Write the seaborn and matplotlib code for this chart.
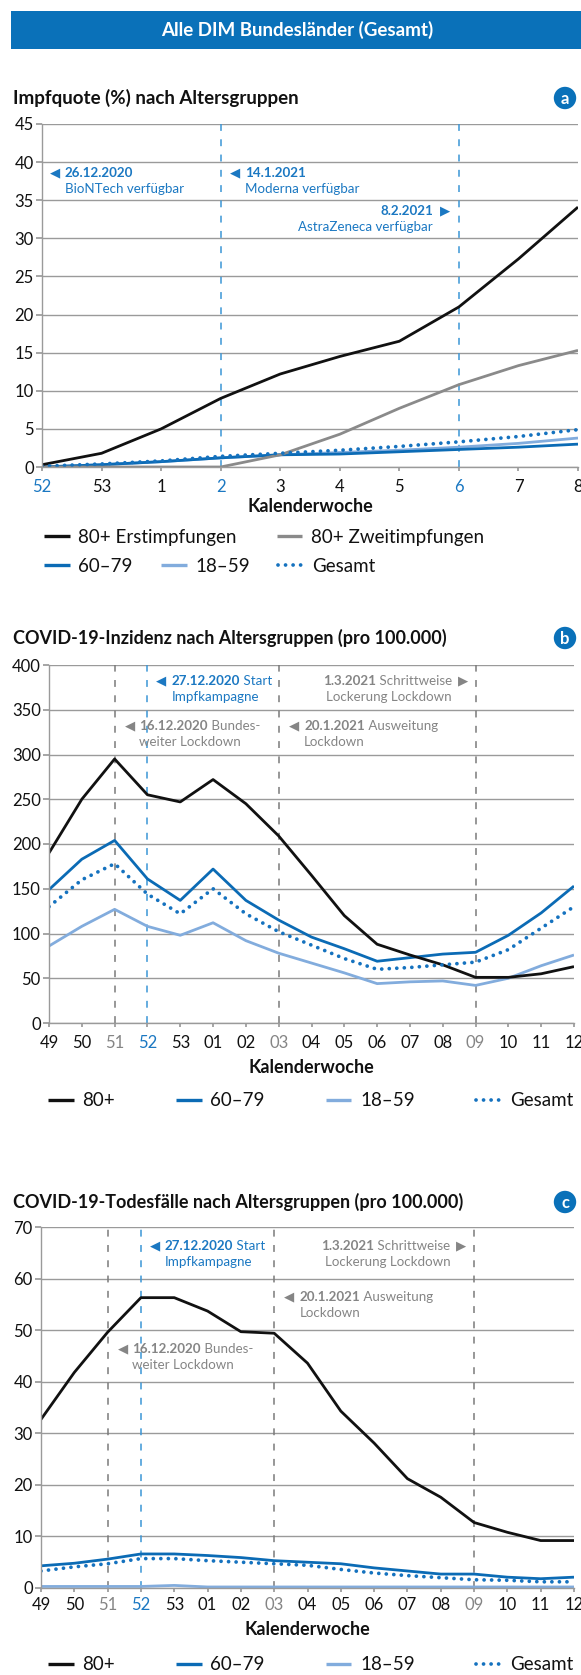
import matplotlib

matplotlib.use("Agg", force=True)
import matplotlib.pyplot as plt
import pandas as pd
import seaborn as sns
from matplotlib.lines import Line2D
from matplotlib.patches import Circle, Rectangle

W, H = 581, 1675

# panel a: Impfquote (%)
A_WEEKS = ["52", "53", "1", "2", "3", "4", "5", "6", "7", "8"]
A_ERST = [0.3, 1.8, 5.0, 9.0, 12.2, 14.5, 16.5, 21.0, 27.3, 34.1]
A_ZWEIT = [0.0, 0.0, 0.0, 0.0, 1.6, 4.3, 7.7, 10.8, 13.3, 15.3]
A_6079 = [0.0, 0.3, 0.7, 1.2, 1.6, 1.7, 2.0, 2.3, 2.6, 3.0]
A_1859 = [0.0, 0.3, 0.7, 1.2, 1.6, 1.9, 2.2, 2.6, 3.1, 3.8]
A_GES = [0.1, 0.4, 0.8, 1.4, 1.8, 2.2, 2.7, 3.3, 4.0, 4.9]

# panels b and c share the weeks
BC_WEEKS = ["49", "50", "51", "52", "53", "01", "02", "03", "04",
            "05", "06", "07", "08", "09", "10", "11", "12"]

# panel b: Inzidenz pro 100.000
B_80 = [190, 250, 295, 255, 247, 272, 245, 209, 165, 120, 88, 76, 65, 51, 51, 55, 63]
B_6079 = [149, 183, 204, 161, 137, 172, 137, 115, 96, 83, 69, 73, 77, 79, 98, 123, 153]
B_1859 = [86, 108, 127, 108, 98, 112, 92, 78, 67, 56, 44, 46, 47, 42, 50, 64, 76]
B_GES = [130, 160, 178, 144, 122, 150, 122, 102, 87, 72, 60, 62, 65, 68, 82, 106, 130]

# panel c: Todesfälle pro 100.000
C_80 = [32.7, 41.8, 49.6, 56.3, 56.3, 53.7, 49.7, 49.4, 43.6, 34.3, 28.1, 21.2, 17.6, 12.7, 10.8, 9.2, 9.2]
C_6079 = [4.3, 4.8, 5.6, 6.6, 6.6, 6.3, 5.9, 5.3, 5.0, 4.7, 3.9, 3.3, 2.7, 2.7, 2.1, 1.8, 2.1]
C_1859 = [0.3, 0.3, 0.3, 0.3, 0.5, 0.2, 0.2, 0.2, 0.2, 0.2, 0.2, 0.2, 0.2, 0.2, 0.2, 0.2, 0.2]
C_GES = [3.3, 4.1, 4.7, 5.7, 5.7, 5.3, 5.0, 4.7, 4.4, 3.6, 2.9, 2.4, 2.0, 1.6, 1.5, 1.2, 1.2]

BLACK = "#111111"
GREY_LINE = "#8a8a8a"
BLUE_DARK = "#0b6bb5"
BLUE_LIGHT = "#82acdd"
BLUE_DOT = "#1572bf"
NOTE_BLUE = "#1b78c2"
NOTE_GREY = "#858585"
VLINE_BLUE = "#3b96d6"
VLINE_GREY = "#7a7a7a"
AXIS_GREY = "#9a9a9a"
BANNER = "#0a71b9"

TICK_FS = 12
NOTE_FS = 9.6
TRI_FS = 9.5
LEG_FS = 13.5


def set_style() -> None:
    sns.set_theme(style="white")
    plt.rcParams["font.family"] = ["Lato", "DejaVu Sans"]
    plt.rcParams["axes.unicode_minus"] = False


def add_axes(fig, left, right, top, bottom):
    return fig.add_axes([left / W, 1 - bottom / H, (right - left) / W, (bottom - top) / H])


def plot_series(ax, values, color, dotted=False):
    df = pd.DataFrame({"x": range(len(values)), "y": values})
    sns.lineplot(data=df, x="x", y="y", ax=ax, color=color, linewidth=2.0, legend=False)
    line = ax.lines[-1]
    line.set_solid_capstyle("butt")
    if dotted:
        line.set_linewidth(2.7)
        line.set_linestyle((0, (0.01, 2.0)))
        line.set_dash_capstyle("round")


def style_axes(ax, labels, ymax, ystep, colored, xpad, labelpad):
    ax.set_xlim(0, len(labels) - 1)
    ax.set_ylim(0, ymax)
    ax.set_yticks(range(0, ymax + 1, ystep))
    ax.set_xticks(range(len(labels)), labels)
    ax.yaxis.grid(True, color=AXIS_GREY, linewidth=1.0)
    ax.set_axisbelow(True)
    for side in ["top", "right"]:
        ax.spines[side].set_visible(False)
    for side in ["left", "bottom"]:
        ax.spines[side].set_color(AXIS_GREY)
        ax.spines[side].set_linewidth(1.0)
    ax.tick_params(axis="y", left=True, length=4, color=AXIS_GREY, pad=2, labelsize=TICK_FS, labelcolor=BLACK)
    ax.tick_params(axis="x", bottom=True, length=3, color=AXIS_GREY, pad=xpad, labelsize=TICK_FS, labelcolor=BLACK)
    for lab in ax.get_xticklabels():
        if lab.get_text() in colored:
            lab.set_color(colored[lab.get_text()])
    ax.set_ylabel("")
    ax.set_xlabel("Kalenderwoche", fontsize=13, fontweight="bold", color=BLACK, labelpad=labelpad)


def vline(ax, x, color):
    ax.axvline(x, color=color, linewidth=1.1, linestyle=(0, (4.5, 5.5)), zorder=1.5)


def note(ax, x, y, date, rest, second, color, side, tri_off, text_off):
    kw = dict(color=color, fontsize=NOTE_FS, va="center", textcoords="offset pixels", annotation_clip=False)
    if side == "right":
        ax.annotate("◀", (x, y), xytext=(tri_off, 0), ha="left", family=["DejaVu Sans"],
                    **{**kw, "fontsize": TRI_FS})
        d = ax.annotate(date, (x, y), xytext=(text_off, 0), ha="left", fontweight="bold", **kw)
        if rest:
            ax.annotate(" " + rest, (1, 0.5), xycoords=d, xytext=(0, 0), ha="left", **kw)
        ax.annotate(second, (x, y), xytext=(text_off, -16), ha="left", **kw)
    else:
        ax.annotate("▶", (x, y), xytext=(-tri_off, 0), ha="right", family=["DejaVu Sans"],
                    **{**kw, "fontsize": TRI_FS})
        if rest:
            r = ax.annotate(" " + rest, (x, y), xytext=(-text_off, 0), ha="right", **kw)
            ax.annotate(date, (0, 0.5), xycoords=r, xytext=(0, 0), ha="right", fontweight="bold", **kw)
        else:
            ax.annotate(date, (x, y), xytext=(-text_off, 0), ha="right", fontweight="bold", **kw)
        ax.annotate(second, (x, y), xytext=(-text_off, -16), ha="right", **kw)


def title(fig, y, text, letter, size):
    fig.text(13 / W, 1 - y / H, text, fontsize=size, fontweight="bold", color=BLACK, va="center", ha="left")
    fig.patches.append(Circle((565 / 100, (H - y) / 100), 0.112, transform=fig.dpi_scale_trans,
                              facecolor=BANNER, edgecolor="none"))
    fig.text(565 / W, 1 - (y + 1) / H, letter, fontsize=12, fontweight="bold", color="white",
             ha="center", va="center")


def handle(color, dotted=False):
    if dotted:
        return Line2D([], [], color=color, linewidth=2.7, linestyle=(0, (0.01, 2.0)), dash_capstyle="round")
    return Line2D([], [], color=color, linewidth=2.4, solid_capstyle="butt")


def legend(fig, x, y, handles, labels, spacing):
    return fig.legend(handles, labels, loc="center left", bbox_to_anchor=(x / W, 1 - y / H), ncol=len(labels),
                      frameon=False, fontsize=LEG_FS, handlelength=1.37, handletextpad=0.46,
                      columnspacing=spacing, borderpad=0, borderaxespad=0, labelcolor=BLACK)


def panel_bc(ax, s80, s6079, s1859, sges, ymax, ystep, ypos, xpad):
    for vals, col in [(s1859, BLUE_LIGHT), (s6079, BLUE_DARK), (s80, BLACK)]:
        plot_series(ax, vals, col)
    plot_series(ax, sges, BLUE_DOT, dotted=True)
    style_axes(ax, BC_WEEKS, ymax, ystep, {"51": NOTE_GREY, "52": NOTE_BLUE, "03": NOTE_GREY, "09": NOTE_GREY},
               xpad, 6)
    vline(ax, 2, VLINE_GREY)
    vline(ax, 3, VLINE_BLUE)
    vline(ax, 7, VLINE_GREY)
    vline(ax, 13, VLINE_GREY)
    y1, y2, y3 = ypos
    note(ax, 3, y1, "27.12.2020", "Start", "Impfkampagne", NOTE_BLUE, "right", 9, 24)
    note(ax, 13, y1, "1.3.2021", "Schrittweise", "Lockerung Lockdown", NOTE_GREY, "left", 7.5, 23.5)
    note(ax, 7, y2, "20.1.2021", "Ausweitung", "Lockdown", NOTE_GREY, "right", 10, 25.5)
    note(ax, 2, y3, "16.12.2020", "Bundes-", "weiter Lockdown", NOTE_GREY, "right", 10, 24.5)


def main() -> None:
    set_style()
    fig = plt.figure(figsize=(W / 100, H / 100), dpi=100)

    fig.patches.append(Rectangle((11 / W, 1 - 49 / H), 1 - 11 / W, 38 / H, transform=fig.transFigure,
                                 facecolor=BANNER, edgecolor="none"))
    fig.text(297 / W, 1 - 30 / H, "Alle DIM Bundesländer (Gesamt)", fontsize=13.5, fontweight="bold",
             color="white", ha="center", va="center")

    # a
    title(fig, 98, "Impfquote (%) nach Altersgruppen", "a", 13.5)
    ax_a = add_axes(fig, 42, 578, 124, 467)
    plot_series(ax_a, A_1859, BLUE_LIGHT)
    plot_series(ax_a, A_6079, BLUE_DARK)
    plot_series(ax_a, A_ZWEIT, GREY_LINE)
    plot_series(ax_a, A_ERST, BLACK)
    plot_series(ax_a, A_GES, BLUE_DOT, dotted=True)
    style_axes(ax_a, A_WEEKS, 45, 5, {"52": NOTE_BLUE, "2": NOTE_BLUE, "6": NOTE_BLUE}, 5.5, 2.5)
    for x in [0, 3, 7]:
        vline(ax_a, x, VLINE_BLUE)
    note(ax_a, 0, 38.6, "26.12.2020", "", "BioNTech verfügbar", NOTE_BLUE, "right", 8, 23)
    note(ax_a, 3, 38.6, "14.1.2021", "", "Moderna verfügbar", NOTE_BLUE, "right", 9, 24)
    note(ax_a, 7, 33.6, "8.2.2021", "", "AstraZeneca verfügbar", NOTE_BLUE, "left", 9, 26)
    legend(fig, 44, 537, [handle(BLACK), handle(GREY_LINE)], ["80+ Erstimpfungen", "80+ Zweitimpfungen"], 2.13)
    legend(fig, 44, 566, [handle(BLUE_DARK), handle(BLUE_LIGHT), handle(BLUE_DOT, True)],
           ["60–79", "18–59", "Gesamt"], 1.5)

    bc_handles = [handle(BLACK), handle(BLUE_DARK), handle(BLUE_LIGHT), handle(BLUE_DOT, True)]
    bc_labels = ["80+", "60–79", "18–59", "Gesamt"]

    # b
    title(fig, 638, "COVID-19-Inzidenz nach Altersgruppen (pro 100.000)", "b", 13.0)
    ax_b = add_axes(fig, 49, 574, 665, 1023)
    panel_bc(ax_b, B_80, B_6079, B_1859, B_GES, 400, 50, (382, 332, 332), 5.5)
    legend(fig, 48, 1101, bc_handles, bc_labels, 3.25)

    # c
    title(fig, 1202, "COVID-19-Todesfälle nach Altersgruppen (pro 100.000)", "c", 13.0)
    ax_c = add_axes(fig, 41, 574, 1227, 1588)
    panel_bc(ax_c, C_80, C_6079, C_1859, C_GES, 70, 10, (66.3, 56.4, 46.3), 3.5)
    legend(fig, 48, 1665, bc_handles, bc_labels, 3.25)

    fig.savefig("out.png", dpi=100)
    plt.close(fig)


if __name__ == "__main__":
    main()
